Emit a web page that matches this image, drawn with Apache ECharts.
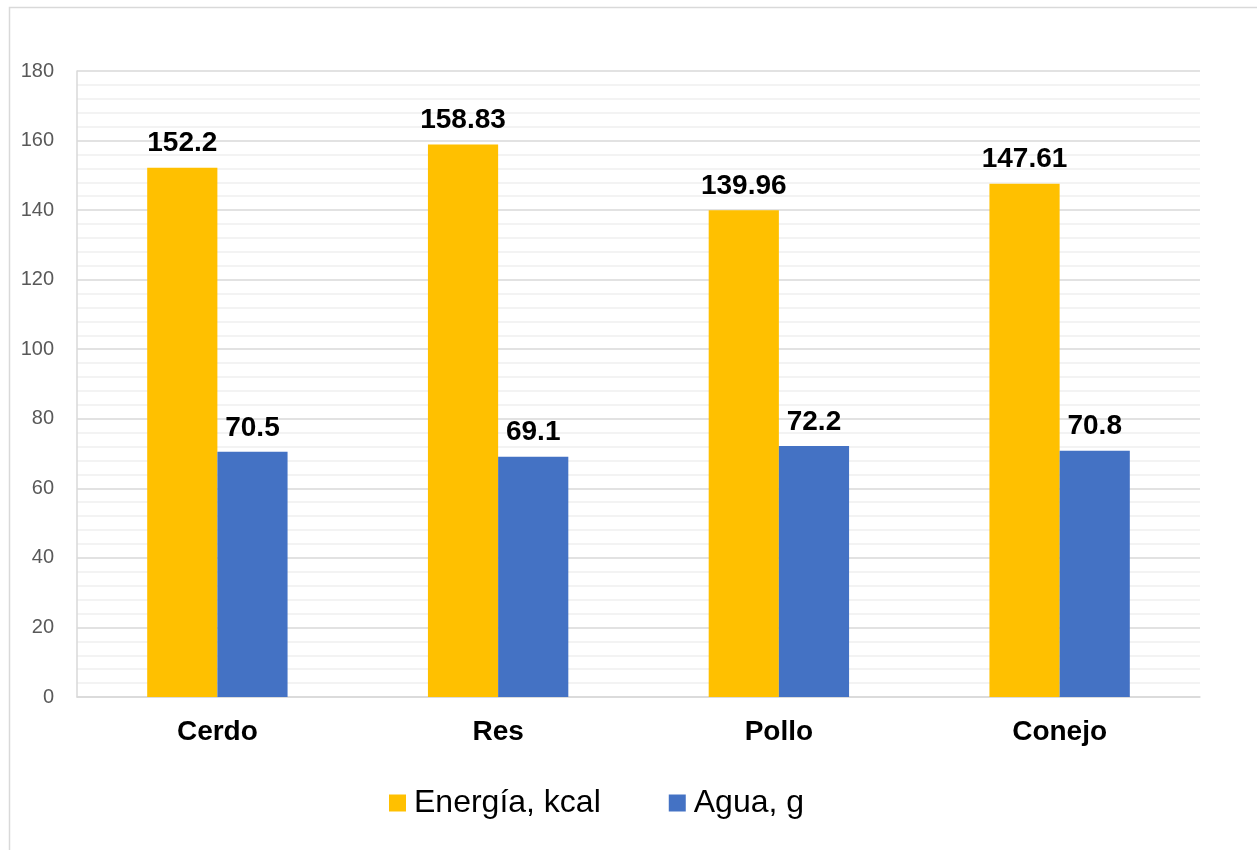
<!DOCTYPE html>
<html>
<head>
<meta charset="utf-8">
<script src="https://cdn.jsdelivr.net/npm/echarts@6/dist/echarts.min.js"></script>
<style>
  html, body { margin: 0; padding: 0; background: #fff; }
  #chart { width: 1257px; height: 850px; }
</style>
</head>
<body>
<div id="chart"></div>
<script>
// Categories and series values
const categories = ['Cerdo', 'Res', 'Pollo', 'Conejo'];
const energia = [152.2, 158.83, 139.96, 147.61];
const agua = [70.5, 69.1, 72.2, 70.8];
const seriesNames = ['Energía, kcal', 'Agua, g'];

const FONT = '"Liberation Sans", Arial, sans-serif';

const chart = echarts.init(document.getElementById('chart'));

const labelStyle = {
  show: true,
  position: 'top',
  distance: 10,
  color: '#000',
  fontFamily: FONT,
  fontWeight: 'bold',
  fontSize: 28
};

chart.setOption({
  animation: false,
  textStyle: { fontFamily: FONT },
  graphic: [{
    type: 'rect',
    shape: { x: 9.5, y: 7.5, width: 1300, height: 900 },
    style: { fill: 'none', stroke: '#d9d9d9', lineWidth: 1.5 },
    silent: true
  }],
  legend: {
    left: 384,
    top: 782,
    itemWidth: 17,
    itemHeight: 17,
    itemGap: 68,
    icon: 'rect',
    textStyle: { fontFamily: FONT, fontSize: 32, color: '#000', padding: [0, 0, 0, 3] },
    data: seriesNames
  },
  grid: { left: 77, right: 57, top: 71, bottom: 153, containLabel: false },
  xAxis: {
    type: 'category',
    data: categories,
    axisLine: { show: true, lineStyle: { color: '#d9d9d9', width: 1.5 } },
    axisTick: { show: false },
    axisLabel: {
      margin: 21,
      color: '#000',
      fontFamily: FONT,
      fontWeight: 'bold',
      fontSize: 28
    }
  },
  yAxis: {
    type: 'value',
    min: 0,
    max: 180,
    interval: 20,
    axisLine: { show: true, lineStyle: { color: '#d9d9d9', width: 1.5 } },
    axisTick: { show: false },
    axisLabel: { margin: 23, color: '#595959', fontFamily: FONT, fontSize: 20 },
    splitLine: { show: true, lineStyle: { color: '#d9d9d9', width: 1.5 } },
    minorTick: { show: false, splitNumber: 5 },
    minorSplitLine: { show: true, lineStyle: { color: '#efefef', width: 1.5 } }
  },
  series: [
    {
      name: seriesNames[0],
      type: 'bar',
      data: energia,
      barWidth: '25%',
      barGap: '0%',
      itemStyle: { color: '#ffc000' },
      label: labelStyle
    },
    {
      name: seriesNames[1],
      type: 'bar',
      data: agua,
      barWidth: '25%',
      itemStyle: { color: '#4472c4' },
      label: labelStyle
    }
  ]
});
</script>
</body>
</html>
